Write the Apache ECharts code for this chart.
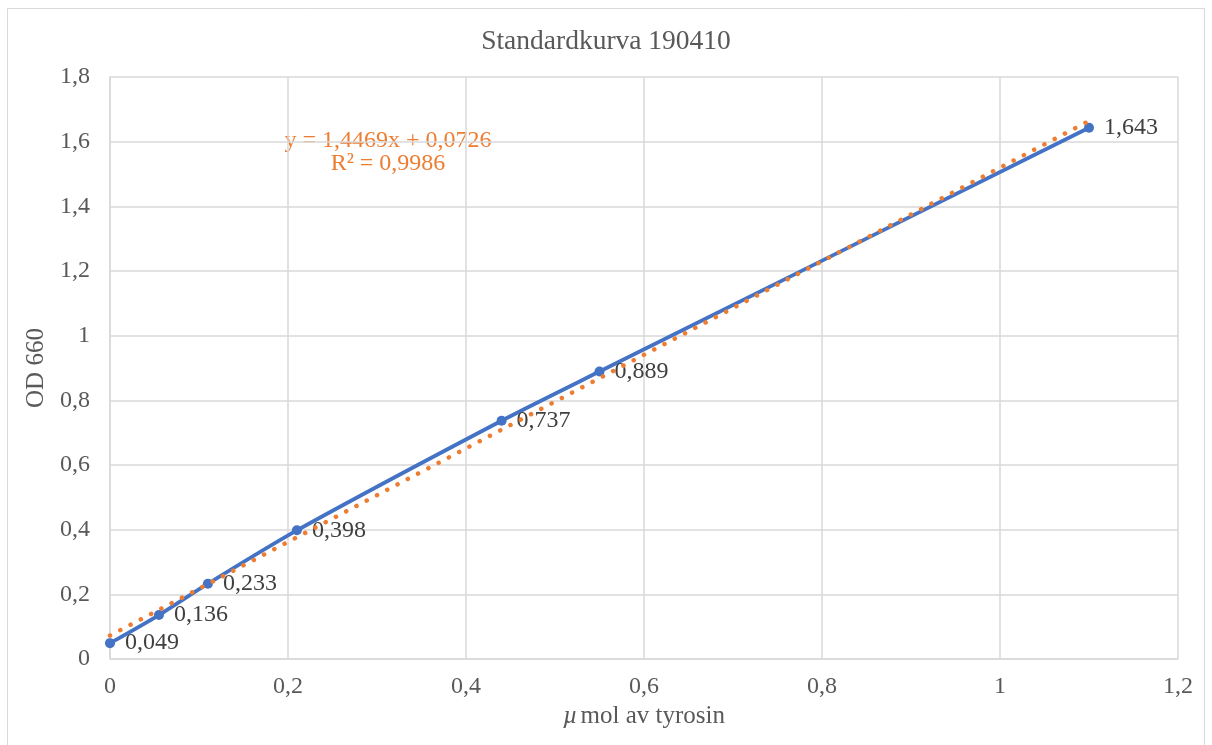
<!DOCTYPE html>
<html><head><meta charset="utf-8">
<script src="https://cdn.jsdelivr.net/npm/echarts@6/dist/echarts.min.js"></script>
<style>html,body{margin:0;padding:0;background:#fff}#c{width:1212px;height:745px}</style>
</head><body><div id="c"></div>
<script>
const xValues = [0, 0.055, 0.11, 0.21, 0.44, 0.55, 1.1];
const odValues = [0.049, 0.136, 0.233, 0.398, 0.737, 0.889, 1.643];
const trendSlope = 1.4469;
const trendIntercept = 0.0726;
const trendRange = [0, 1.1];
const titleText = 'Standardkurva 190410';
const eqLines = ['y = 1,4469x + 0,0726', 'R² = 0,9986'];

const fmt = v => String(v).replace('.', ',');
const FONT = 'Liberation Serif';
const chart = echarts.init(document.getElementById('c'));
chart.setOption({
  animation: false,
  textStyle: {fontFamily: FONT},
  title: {text: titleText, left: 'center', top: 23, textStyle: {fontFamily: FONT, fontSize: 27.5, fontWeight: 'normal', color: '#595959'}},
  grid: {left: 110, top: 77, right: 34, bottom: 86},
  graphic: [
    {type: 'rect', shape: {x: 7.5, y: 8.5, width: 1197, height: 745}, style: {fill: 'none', stroke: '#d9d9d9', lineWidth: 1}, silent: true},
    {type: 'text', x: 388, y: 152, style: {text: eqLines.join('\n'), fontFamily: FONT, fontSize: 24, fill: '#ED7D31', align: 'center', verticalAlign: 'middle', lineHeight: 23}}
  ],
  xAxis: {
    type: 'value', min: 0, max: 1.2, interval: 0.2,
    name: '{i|µ}mol av tyrosin', nameLocation: 'middle', nameGap: 44,
    nameTextStyle: {fontFamily: FONT, fontSize: 25, color: '#595959', rich: {i: {fontStyle: 'italic', fontFamily: FONT, fontSize: 25, color: '#595959', padding: [0, 3, 0, 0]}}},
    axisLine: {show: true, lineStyle: {color: '#d9d9d9', width: 1.5}},
    axisTick: {show: false},
    axisLabel: {formatter: v => fmt(+v.toFixed(1)), fontSize: 24, color: '#595959', margin: 16},
    splitLine: {show: true, lineStyle: {color: '#d9d9d9', width: 1.5}}
  },
  yAxis: {
    type: 'value', min: 0, max: 1.8, interval: 0.2,
    name: 'OD 660', nameLocation: 'middle', nameGap: 54, nameRotate: 90,
    nameTextStyle: {fontFamily: FONT, fontSize: 25, color: '#595959'},
    axisLine: {show: true, lineStyle: {color: '#d9d9d9', width: 1.5}},
    axisTick: {show: false},
    axisLabel: {formatter: v => fmt(+v.toFixed(1)), fontSize: 24, color: '#595959', margin: 20},
    splitLine: {show: true, lineStyle: {color: '#d9d9d9', width: 1.5}}
  },
  series: [
    {
      type: 'line', name: 'OD', data: xValues.map((x, i) => [x, odValues[i]]),
      smooth: 0.25, symbol: 'circle', symbolSize: 10,
      itemStyle: {color: '#4472C4'}, lineStyle: {color: '#4472C4', width: 3.8},
      label: {show: true, position: 'right', distance: 10, formatter: p => fmt(p.value[1]), fontFamily: FONT, fontSize: 24, color: '#404040'},
      z: 2
    },
    {
      type: 'line', name: 'trend', data: trendRange.map(x => [x, trendSlope * x + trendIntercept]),
      symbol: 'none', lineStyle: {color: '#ED7D31', width: 4.5, type: [0.1, 11.5], cap: 'round'}, z: 3
    }
  ]
});
</script></body></html>
